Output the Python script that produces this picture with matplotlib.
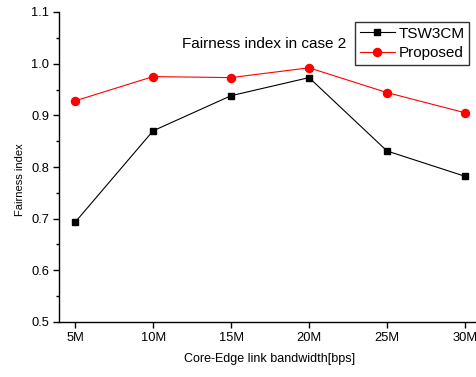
import matplotlib
matplotlib.use("Agg")
import matplotlib.pyplot as plt
from matplotlib.ticker import MultipleLocator, FormatStrFormatter

plt.rcParams['font.family'] = ['Liberation Sans', 'DejaVu Sans']

categories = ["5M", "10M", "15M", "20M", "25M", "30M"]
x_vals = [5, 10, 15, 20, 25, 30]
tsw3cm = [0.693, 0.870, 0.938, 0.973, 0.831, 0.782]
proposed = [0.928, 0.975, 0.973, 0.992, 0.944, 0.905]

W, H = 477, 377
L, R, B, T = 59.5, 480.6, 322, 12
fig = plt.figure(figsize=(W/100, H/100), dpi=100)
ax = fig.add_axes([L/W, (H-B)/H, (R-L)/W, (B-T)/H])

ax.plot(x_vals, tsw3cm, color='black', lw=0.8, marker='s', ms=5, label='TSW3CM')
ax.plot(x_vals, proposed, color='red', lw=0.8, marker='o', ms=5.8, label='Proposed')

ax.set_xlim(4, 31)
ax.set_ylim(0.5, 1.1)
ax.set_xticks(x_vals)
ax.set_xticklabels(categories)
ax.yaxis.set_major_locator(MultipleLocator(0.1))
ax.yaxis.set_minor_locator(MultipleLocator(0.05))
ax.yaxis.set_major_formatter(FormatStrFormatter('%.1f'))

for s in ['top', 'right']:
    ax.spines[s].set_visible(False)
for s in ['left', 'bottom']:
    ax.spines[s].set_linewidth(1.0)

ax.tick_params(axis='both', which='major', direction='out', length=4.5, width=1,
               labelsize=9.3, pad=3)
ax.tick_params(axis='y', which='minor', direction='out', length=2.5, width=1)

ax.set_xlabel("Core-Edge link bandwidth[bps]", fontsize=9)
ax.set_ylabel("Fairness index", fontsize=8)
ax.xaxis.set_label_coords((270 - L)/(R-L), -(359 - B)/(B-T))
ax.yaxis.set_label_coords((20 - L)/(R-L), (B - 179.5)/(B-T))
ax.xaxis.label.set_va('center')
ax.yaxis.label.set_va('center')

fig.text(264/W, 1 - 44.5/H, "Fairness index in case 2", ha='center', va='center', fontsize=11)

leg = ax.legend(loc='upper left', bbox_to_anchor=((355 - L)/(R-L), (B - 22)/(B-T)),
                fontsize=11, frameon=True, fancybox=False, edgecolor='black',
                handlelength=2.3, borderpad=0.3, labelspacing=0.35, handletextpad=0.25,
                borderaxespad=0)
leg.get_frame().set_linewidth(1.0)

fig.savefig("out.png", dpi=100)
